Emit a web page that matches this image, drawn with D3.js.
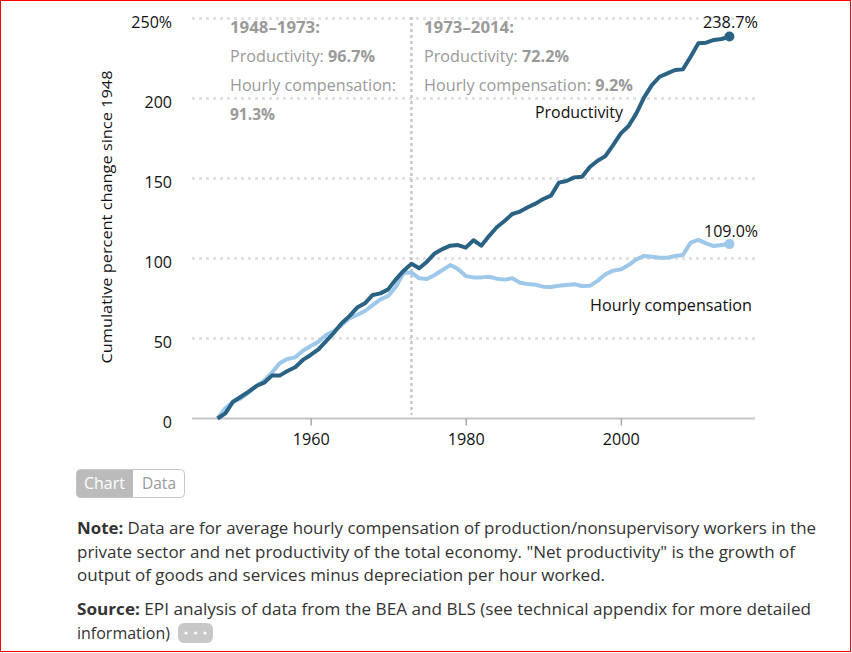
<!DOCTYPE html>
<html>
<head>
<meta charset="utf-8">
<script src="https://cdn.jsdelivr.net/npm/d3@7"></script>
<style>
  body { margin: 0; background: #fff; }
  svg { display: block; font-family: "Open Sans", Lato, sans-serif; }
</style>
</head>
<body>
<svg id="chart" width="852" height="653"></svg>
<script>
// data: cumulative % change since 1948
var years = d3.range(1948, 2015);
var productivity = [
  0, 3.2, 10.5, 13.6, 16.8, 20.3, 22.4, 26.8, 26.8, 29.7,
  32.0, 36.6, 39.7, 43.2, 48.4, 53.6, 59.5, 64.0, 69.3, 72.0,
  77.2, 78.2, 80.7, 87.0, 92.4, 96.7, 93.9, 98.0, 103.2, 105.9,
  108.0, 108.4, 106.8, 111.4, 108.0, 114.0, 119.5, 123.4, 127.8, 129.3,
  132.0, 134.3, 137.2, 139.3, 147.4, 148.4, 150.7, 151.1, 157.2, 161.1,
  164.0, 170.9, 178.2, 182.8, 190.7, 200.7, 208.4, 213.6, 215.7, 217.8,
  218.2, 226.1, 234.5, 234.9, 236.6, 237.2, 238.7
];
var compensation = [
  0, 6.4, 10.5, 12.6, 16.1, 20.3, 23.6, 28.6, 34.5, 37.2,
  38.2, 42.4, 45.3, 48.0, 52.2, 54.7, 58.4, 62.6, 64.7, 67.2,
  70.9, 74.5, 76.6, 82.4, 91.1, 91.3, 87.6, 87.2, 89.7, 92.8,
  95.9, 93.4, 89.0, 88.2, 88.2, 88.6, 87.4, 86.8, 87.6, 84.9,
  84.0, 83.6, 82.4, 82.2, 83.0, 83.4, 83.9, 82.8, 82.9, 86.0,
  90.1, 92.4, 93.2, 95.9, 99.5, 101.6, 101.1, 100.5, 100.5, 101.6,
  102.2, 109.9, 111.6, 109.5, 107.8, 108.4, 109.0
];
var yTicks = [0, 50, 100, 150, 200, 250];
var xTicks = [1960, 1980, 2000];
var noteLines = [
  ["Note:", " Data are for average hourly compensation of production/nonsupervisory workers in the"],
  ["", "private sector and net productivity of the total economy. \"Net productivity\" is the growth of"],
  ["", "output of goods and services minus depreciation per hour worked."]
];
var sourceLines = [
  ["Source:", " EPI analysis of data from the BEA and BLS (see technical appendix for more detailed"],
  ["", "information)"]
];

var darkBlue = "#2a6283", lightBlue = "#9dc8ea", gray = "#9a9a9a";

var svg = d3.select("#chart");

// red frame of the screenshot
svg.append("rect").attr("x", 0.5).attr("y", 0.5).attr("width", 850).attr("height", 651)
  .attr("fill", "none").attr("stroke", "#ff0000").attr("stroke-width", 1);

var x = d3.scaleLinear().domain([1944.7, 2017.3]).range([192, 755]);
var y = d3.scaleLinear().domain([0, 250]).range([418.5, 18.5]);

// text helper; w = width measured on the reference
function label(xPos, yPos, parts, opts) {
  var t = svg.append("text").attr("x", xPos).attr("y", yPos)
    .attr("font-size", opts.size || 15).attr("fill", opts.fill || "#111")
    .attr("text-anchor", opts.anchor || "start");
  if (opts.w) t.attr("textLength", opts.w).attr("lengthAdjust", "spacingAndGlyphs");
  parts.forEach(function (p) {
    t.append("tspan").attr("font-weight", p[1] ? "bold" : "normal").text(p[0]);
  });
  return t;
}

// gridlines
svg.append("g").selectAll("line")
  .data(yTicks.filter(function (d) { return d > 0; }))
  .enter().append("line")
  .attr("x1", x.range()[0]).attr("x2", x.range()[1])
  .attr("y1", function (d) { return y(d); }).attr("y2", function (d) { return y(d); })
  .attr("stroke", "#e2e2e2").attr("stroke-width", 3).attr("stroke-dasharray", "3,4");

// x axis
var xAxis = svg.append("g")
  .attr("transform", "translate(0," + y(0) + ")")
  .call(d3.axisBottom(x).tickValues(xTicks).tickFormat(d3.format("d")).tickSize(7).tickPadding(8));
xAxis.select(".domain").attr("stroke", "#c4c4c4").attr("stroke-width", 2)
  .attr("d", "M" + x.range()[0] + ",0H" + x.range()[1]);
xAxis.selectAll(".tick line").attr("stroke", "#aaa").attr("stroke-width", 1.5);
xAxis.selectAll(".tick text").attr("font-size", 16).attr("fill", "#111")
  .attr("font-family", "'Open Sans', sans-serif")
  .attr("textLength", 37).attr("lengthAdjust", "spacingAndGlyphs");

// y axis labels
svg.append("g").selectAll("text")
  .data(yTicks).enter().append("text")
  .attr("x", 172).attr("y", function (d) { return y(d) + 9; })
  .attr("text-anchor", "end").attr("font-size", 16).attr("fill", "#111")
  .text(function (d) { return d === 250 ? "250%" : d; });

svg.append("text")
  .attr("transform", "translate(112,217) rotate(-90)")
  .attr("text-anchor", "middle").attr("font-size", 15).attr("fill", "#111")
  .attr("textLength", 293).attr("lengthAdjust", "spacingAndGlyphs")
  .text("Cumulative percent change since 1948");

// 1973 divider
svg.append("line")
  .attr("x1", x(1973)).attr("x2", x(1973)).attr("y1", 17).attr("y2", 415)
  .attr("stroke", "#c8c8c8").attr("stroke-width", 2.5).attr("stroke-dasharray", "3,3");

// period annotations
var an = { size: 15.5, fill: gray };
label(230, 33, [["1948\u20131973:", true]], Object.assign({ w: 90 }, an));
label(230, 62, [["Productivity: ", false], ["96.7%", true]], Object.assign({ w: 145 }, an));
label(230, 91, [["Hourly compensation:", false]], Object.assign({ w: 166 }, an));
label(230, 120, [["91.3%", true]], Object.assign({ w: 45 }, an));
label(424, 33, [["1973\u20132014:", true]], Object.assign({ w: 90 }, an));
label(424, 62, [["Productivity: ", false], ["72.2%", true]], Object.assign({ w: 145 }, an));
label(424, 91, [["Hourly compensation: ", false], ["9.2%", true]], Object.assign({ w: 209 }, an));

// lines
var line = d3.line()
  .x(function (d) { return x(d[0]); })
  .y(function (d) { return y(d[1]); });

var series = [
  { values: compensation, color: lightBlue },
  { values: productivity, color: darkBlue }
];
series.forEach(function (s) {
  var pts = years.map(function (yr, i) { return [yr, s.values[i]]; });
  svg.append("path").datum(pts)
    .attr("d", line).attr("fill", "none")
    .attr("stroke", s.color).attr("stroke-width", 4)
    .attr("stroke-linejoin", "round");
  var last = pts[pts.length - 1];
  svg.append("circle").attr("cx", x(last[0])).attr("cy", y(last[1])).attr("r", 5)
    .attr("fill", s.color);
});

// end and series labels
label(703, 28, [["238.7%", false]], { size: 15.5, w: 55 });
label(704, 237, [["109.0%", false]], { size: 15.5, w: 54 });
label(535, 118, [["Productivity", false]], { size: 15.5, w: 88 });
label(590, 311, [["Hourly compensation", false]], { size: 15.5, w: 162 });

// Chart / Data toggle
var btn = svg.append("g");
btn.append("rect").attr("x", 76.5).attr("y", 469.5).attr("width", 108).attr("height", 28).attr("rx", 4)
  .attr("fill", "#fff").attr("stroke", "#c8c8c8");
btn.append("path")
  .attr("d", "M133,470H80.5A4,4 0 0 0 76.5,474V493A4,4 0 0 0 80.5,497.5H133Z")
  .attr("fill", "#bbb");
label(84, 489, [["Chart", false]], { size: 15.5, fill: "#fff", w: 41 });
label(142, 489, [["Data", false]], { size: 15.5, fill: "#999", w: 34 });

// note and source
var noteW = [739, 718, 528];
var sourceW = [734, 93];
function para(lines, widths, startY) {
  lines.forEach(function (l, i) {
    var parts = [];
    if (l[0]) parts.push([l[0], true]);
    parts.push([l[1], false]);
    label(77, startY + i * 23.5, parts, { size: 16, fill: "#333", w: widths[i] });
  });
}
para(noteLines, noteW, 534);
para(sourceLines, sourceW, 615);

// "..." pill after the source
var pill = svg.append("g");
pill.append("rect").attr("x", 178).attr("y", 623).attr("width", 35).attr("height", 20).attr("rx", 6)
  .attr("fill", "#c8c8c8");
pill.selectAll("circle").data([186, 195.5, 205]).enter().append("circle")
  .attr("cx", function (d) { return d; }).attr("cy", 633).attr("r", 1.6).attr("fill", "#fff");
</script>
</body>
</html>
